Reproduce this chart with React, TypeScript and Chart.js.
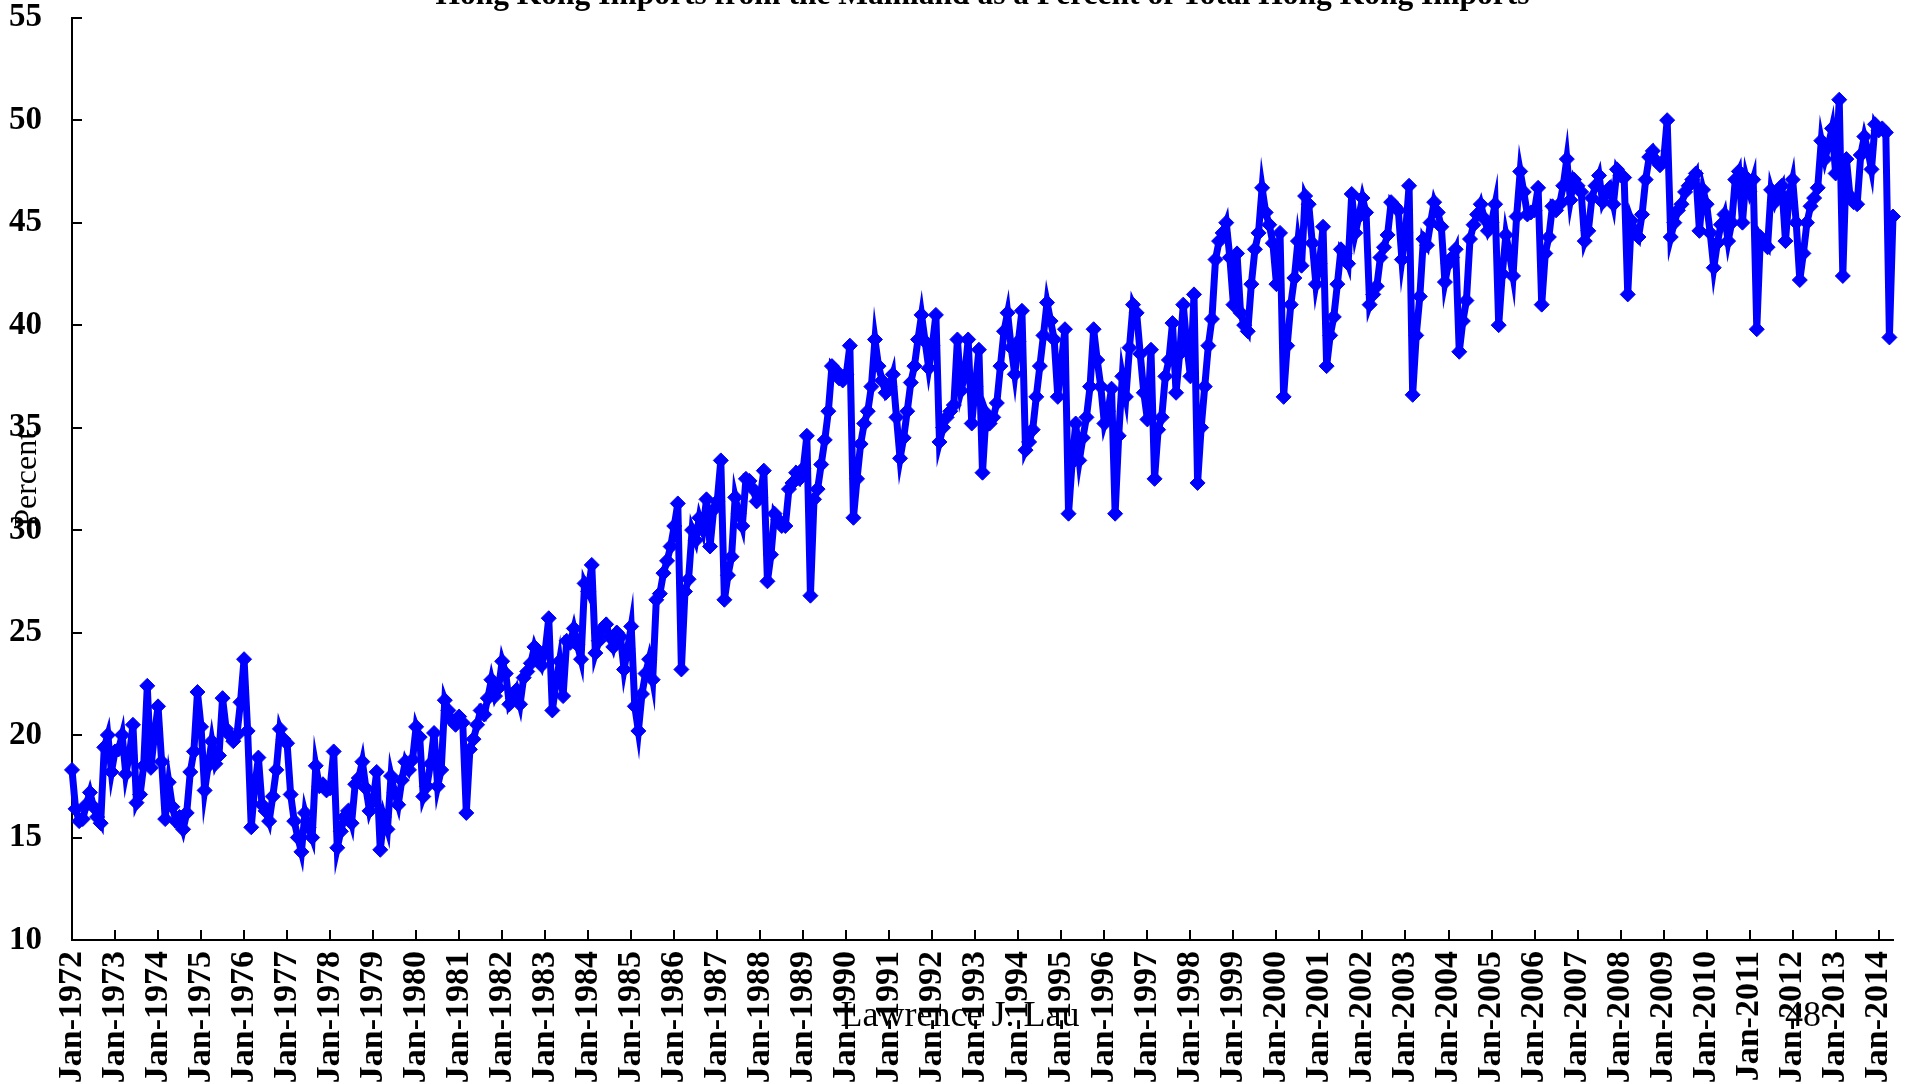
import React, { useEffect, useRef } from 'react';
import { Chart, registerables } from 'chart.js';

Chart.register(...registerables);

// Monthly share (%) of Hong Kong imports coming from the Mainland, Jan-1972 onward
const importShare: number[] = [
  // 1972
  18.3, 16.4, 15.8, 15.9, 16.6, 17.2, 16.5, 16.0, 15.7, 19.4, 20.0, 18.2,
  // 1973
  19.2, 19.3, 20.0, 18.1, 19.0, 20.5, 16.7, 17.1, 18.5, 22.4, 18.4, 20.0,
  // 1974
  21.4, 18.7, 15.9, 17.7, 16.5, 15.8, 16.0, 15.4, 16.2, 18.2, 19.2, 22.1,
  // 1975
  20.4, 17.3, 18.5, 19.7, 18.6, 19.0, 21.8, 20.3, 20.0, 19.7, 20.0, 21.6,
  // 1976
  23.7, 20.2, 15.5, 17.5, 18.9, 16.6, 16.3, 15.8, 17.0, 18.3, 20.3, 19.8,
  // 1977
  19.6, 17.1, 15.8, 15.0, 14.3, 16.2, 15.5, 15.0, 18.5, 17.5, 17.6, 17.3,
  // 1978
  17.4, 19.2, 14.5, 15.3, 16.0, 16.3, 15.7, 17.6, 17.9, 18.7, 17.4, 16.3,
  // 1979
  16.8, 18.2, 14.4, 16.0, 15.4, 18.0, 17.2, 16.6, 17.8, 18.7, 18.3, 18.8,
  // 1980
  20.4, 19.9, 17.0, 17.5, 18.6, 20.1, 17.5, 18.3, 21.7, 21.2, 20.7, 20.5,
  // 1981
  20.9, 20.6, 16.2, 19.3, 19.8, 20.5, 21.2, 21.0, 21.8, 22.7, 21.9, 22.3,
  // 1982
  23.6, 23.0, 21.5, 21.8, 22.2, 21.5, 22.8, 23.1, 23.5, 24.3, 23.8, 23.4,
  // 1983
  24.1, 25.7, 21.2, 22.5, 23.6, 21.9, 24.6, 24.5, 25.2, 24.4, 23.7, 27.4,
  // 1984
  27.0, 28.3, 24.0, 24.6, 25.2, 25.4, 24.8, 24.3, 25.0, 24.8, 23.2, 24.2,
  // 1985
  25.3, 21.4, 20.2, 22.0, 23.0, 23.7, 22.7, 26.6, 26.9, 27.9, 28.5, 29.2,
  // 1986
  30.2, 31.3, 23.2, 27.0, 27.6, 30.0, 29.5, 30.6, 30.0, 31.5, 29.2, 31.0,
  // 1987
  31.4, 33.4, 26.6, 27.8, 28.7, 31.6, 30.8, 30.2, 32.5, 32.4, 32.0, 31.4,
  // 1988
  31.6, 32.9, 27.5, 28.8, 30.8, 30.5, 30.2, 30.2, 32.0, 32.3, 32.8, 32.5,
  // 1989
  33.0, 34.6, 26.8, 31.5, 32.0, 33.2, 34.4, 35.8, 38.0, 37.8, 37.4, 37.3,
  // 1990
  37.6, 39.0, 30.6, 32.5, 34.2, 35.2, 35.8, 37.0, 39.3, 38.0, 37.3, 36.7,
  // 1991
  37.0, 37.6, 35.5, 33.5, 34.5, 35.8, 37.2, 38.0, 39.3, 40.5, 39.2, 37.9,
  // 1992
  39.0, 40.5, 34.3, 35.0, 35.5, 35.8, 36.1, 39.3, 36.8, 37.5, 39.3, 35.2,
  // 1993
  37.0, 38.8, 32.8, 35.7, 35.2, 35.5, 36.2, 38.0, 39.7, 40.6, 38.9, 37.6,
  // 1994
  39.2, 40.7, 33.9, 34.3, 34.9, 36.5, 38.0, 39.5, 41.1, 40.2, 39.3, 36.5,
  // 1995
  38.2, 39.8, 30.8, 33.3, 35.2, 33.4, 34.5, 35.5, 37.0, 39.8, 38.3, 37.0,
  // 1996
  35.2, 35.8, 36.9, 30.8, 34.6, 37.5, 36.5, 38.9, 41.0, 40.6, 38.6, 36.7,
  // 1997
  35.4, 38.8, 32.5, 34.9, 35.5, 37.5, 38.3, 40.1, 36.7, 38.6, 41.0, 39.0,
  // 1998
  37.5, 41.5, 32.3, 35.0, 37.0, 39.0, 40.3, 43.2, 44.1, 44.5, 45.0, 43.3,
  // 1999
  41.0, 43.5, 40.6, 40.0, 39.7, 42.0, 43.7, 44.5, 46.7, 45.5, 44.9, 44.0,
  // 2000
  42.0, 44.5, 36.5, 39.0, 41.0, 42.3, 44.1, 42.9, 46.3, 45.9, 44.0, 42.0,
  // 2001
  43.0, 44.8, 38.0, 39.5, 40.4, 42.0, 43.7, 43.5, 43.0, 46.4, 44.5, 45.3,
  // 2002
  46.2, 45.5, 41.0, 41.5, 41.9, 43.3, 43.8, 44.4, 46.0, 45.8, 45.6, 43.2,
  // 2003
  44.5, 46.8, 36.6, 39.5, 41.4, 44.2, 43.9, 45.0, 46.0, 45.5, 44.8, 42.1,
  // 2004
  43.0, 43.3, 43.7, 38.7, 40.2, 41.2, 44.2, 44.9, 45.4, 45.9, 45.2, 44.6,
  // 2005
  45.0, 45.9, 40.0, 42.5, 44.4, 43.5, 42.4, 45.3, 47.5, 46.5, 45.4, 45.5,
  // 2006
  45.6, 46.7, 41.0, 43.5, 44.3, 45.8, 45.6, 45.9, 46.8, 48.1, 46.1, 47.1,
  // 2007
  46.8, 46.5, 44.1, 44.6, 46.2, 46.8, 47.3, 46.0, 46.4, 46.7, 45.9, 47.6,
  // 2008
  47.3, 47.2, 41.5, 45.1, 44.6, 44.3, 45.4, 47.1, 48.2, 48.5, 48.0, 47.8,
  // 2009
  48.0, 50.0, 44.3, 45.0, 45.6, 45.9, 46.5, 46.8, 47.1, 47.4, 44.6, 46.6,
  // 2010
  45.9, 44.5, 42.8, 44.0, 44.9, 45.4, 44.1, 45.0, 47.1, 47.5, 45.0, 47.2,
  // 2011
  46.5, 47.1, 39.8, 44.3, 44.0, 43.8, 46.6, 46.0, 46.5, 46.8, 44.1, 46.3,
  // 2012
  47.1, 45.0, 42.2, 43.5, 45.0, 45.8, 46.2, 46.7, 49.0, 48.1, 48.8, 49.6,
  // 2013
  47.4, 51.0, 42.4, 48.1, 46.3, 46.0, 45.9, 48.3, 49.2, 48.5, 47.6, 49.8,
  // 2014
  49.5, 49.6, 49.4, 39.4, 45.3,
];

// One label per January (every 12th month)
const xTickLabels: string[] = [
  'Jan-1972', 'Jan-1973', 'Jan-1974', 'Jan-1975', 'Jan-1976', 'Jan-1977', 'Jan-1978',
  'Jan-1979', 'Jan-1980', 'Jan-1981', 'Jan-1982', 'Jan-1983', 'Jan-1984', 'Jan-1985',
  'Jan-1986', 'Jan-1987', 'Jan-1988', 'Jan-1989', 'Jan-1990', 'Jan-1991', 'Jan-1992',
  'Jan-1993', 'Jan-1994', 'Jan-1995', 'Jan-1996', 'Jan-1997', 'Jan-1998', 'Jan-1999',
  'Jan-2000', 'Jan-2001', 'Jan-2002', 'Jan-2003', 'Jan-2004', 'Jan-2005', 'Jan-2006',
  'Jan-2007', 'Jan-2008', 'Jan-2009', 'Jan-2010', 'Jan-2011', 'Jan-2012', 'Jan-2013',
  'Jan-2014',
];

const yMin = 10;
const yMax = 55;
const yStep = 5;

const chartTitle = 'Hong Kong Imports from the Mainland as a Percent of Total Hong Kong Imports';
const yAxisTitle = 'Percent';
const footerAuthor = 'Lawrence J. Lau';
const footerPage = '48';

const SERIF = "'Liberation Serif', 'Times New Roman', Times, serif";
const CANVAS_W = 1905;
const CANVAS_H = 1163;
const CANVAS_SHIFT = 23;

export default function App() {
  const canvasRef = useRef<HTMLCanvasElement | null>(null);

  useEffect(() => {
    const canvas = canvasRef.current;
    if (!canvas) return;
    const points = importShare.map((v, i) => ({ x: i, y: v }));

    const innerTicks = {
      id: 'innerTicks',
      beforeDatasetsDraw(chart: any) {
        const { ctx, chartArea, scales } = chart;
        const ys = scales.y;
        const xs = scales.x;
        ctx.save();
        ctx.strokeStyle = '#000';
        ctx.lineWidth = 2;
        ys.ticks.forEach((t: any) => {
          const py = Math.round(ys.getPixelForValue(t.value));
          ctx.beginPath();
          ctx.moveTo(chartArea.left, py);
          ctx.lineTo(chartArea.left + 10, py);
          ctx.stroke();
        });
        xs.ticks.forEach((t: any) => {
          const px = Math.round(xs.getPixelForValue(t.value));
          ctx.beginPath();
          ctx.moveTo(px, chartArea.bottom);
          ctx.lineTo(px, chartArea.bottom - 10);
          ctx.stroke();
        });
        ctx.restore();
      },
    };

    const chart = new Chart(canvas, {
      type: 'line',
      data: {
        datasets: [
          {
            data: points,
            borderColor: '#0000FF',
            backgroundColor: '#0000FF',
            borderWidth: 7,
            tension: 0,
            pointStyle: 'rectRot',
            pointRadius: 7.5,
            pointBorderWidth: 1,
            pointBackgroundColor: '#0000FF',
            pointBorderColor: '#0000FF',
            clip: false,
          } as any,
        ],
      },
      options: {
        responsive: false,
        animation: false,
        devicePixelRatio: 1,
        layout: { padding: { left: 0, right: 12, top: 0, bottom: 0 } },
        plugins: {
          legend: { display: false },
          tooltip: { enabled: false },
          title: {
            display: true,
            text: chartTitle,
            fullSize: false,
            color: '#000',
            font: { family: SERIF, size: 31.5, weight: 'bold', lineHeight: 1.2 },
            padding: { top: 0, bottom: 2.9 },
          },
        },
        scales: {
          x: {
            type: 'linear',
            min: 0,
            max: importShare.length - 1,
            grid: { display: false, drawTicks: false },
            border: { display: true, color: '#000', width: 2 },
            ticks: {
              stepSize: 12,
              autoSkip: false,
              includeBounds: false,
              minRotation: 90,
              maxRotation: 90,
              padding: 11,
              color: '#000',
              font: { family: SERIF, size: 34, weight: 'bold' },
              callback: (value: any) => {
                const v = Number(value);
                return v % 12 === 0 ? xTickLabels[v / 12] : '';
              },
            },
            afterFit: (scale: any) => {
              scale.height = 200;
              scale.paddingLeft = 0;
              scale.paddingRight = 0;
            },
          },
          y: {
            min: yMin,
            max: yMax,
            grid: { display: false, drawTicks: false },
            border: { display: true, color: '#000', width: 2 },
            ticks: {
              stepSize: yStep,
              padding: 30,
              color: '#000',
              font: { family: SERIF, size: 33, weight: 'bold' },
            },
            title: {
              display: true,
              text: yAxisTitle,
              color: '#000',
              font: { family: SERIF, size: 32, weight: 'normal', lineHeight: 1.2 },
              padding: { top: 8, bottom: 0 },
            },
            afterFit: (scale: any) => {
              scale.width = 72;
              scale.paddingTop = 0;
              scale.paddingBottom = 0;
            },
          },
        },
      } as any,
      plugins: [innerTicks],
    });

    return () => {
      chart.destroy();
    };
  }, []);

  return (
    <div
      style={{
        position: 'fixed',
        left: 0,
        top: 0,
        width: CANVAS_W,
        height: 1084,
        overflow: 'hidden',
        background: '#ffffff',
      }}
    >
      <canvas
        ref={canvasRef}
        width={CANVAS_W}
        height={CANVAS_H}
        style={{ position: 'absolute', left: 0, top: -CANVAS_SHIFT, width: CANVAS_W, height: CANVAS_H }}
      />
      <div
        style={{
          position: 'absolute',
          left: 760,
          width: 400,
          top: 993,
          textAlign: 'center',
          fontFamily: SERIF,
          fontSize: 36,
          lineHeight: '42px',
          color: '#000',
        }}
      >
        {footerAuthor}
      </div>
      <div
        style={{
          position: 'absolute',
          left: 1763,
          width: 80,
          top: 993,
          textAlign: 'center',
          fontFamily: SERIF,
          fontSize: 36,
          lineHeight: '42px',
          color: '#000',
        }}
      >
        {footerPage}
      </div>
    </div>
  );
}
